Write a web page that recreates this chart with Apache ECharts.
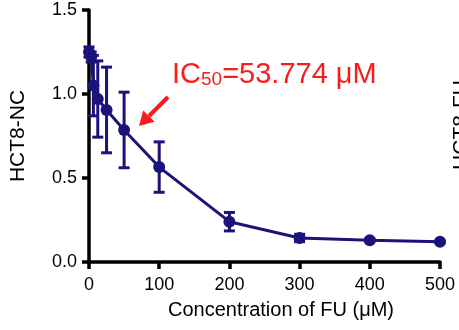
<!DOCTYPE html>
<html><head><meta charset="utf-8">
<script src="https://cdn.jsdelivr.net/npm/echarts@6/dist/echarts.min.js"></script>
<style>html,body{margin:0;padding:0;background:#fff;}#c{width:459px;height:330px;}</style>
</head><body><div id="c"></div>
<script>
// Data
const concentrations = [0, 3.125, 6.25, 12.5, 25, 50, 100, 200, 300, 400, 500];
const viability = [1.25, 1.22, 1.05, 0.97, 0.905, 0.786, 0.565, 0.24, 0.143, 0.13, 0.12];
const errors = [0.03, 0.03, 0.18, 0.227, 0.255, 0.225, 0.15, 0.055, 0.022, 0.008, 0.005];
const xTicks = [0, 100, 200, 300, 400, 500];
const yTicks = [0.0, 0.5, 1.0, 1.5];
const xTitle = 'Concentration of FU (μM)';
const yTitle = 'HCT8-NC';
const rightTitle = 'HCT8-FU';
const icLabel = ['IC', '50', '=53.774 μM'];

const navy = '#1b137a';
const red = '#fa1c1c';
const font = 'Liberation Sans, Arial, Helvetica, sans-serif';

const lineData = concentrations.map((c, i) => [c, viability[i]]);
const errData = concentrations.map((c, i) => [c, viability[i] - errors[i], viability[i] + errors[i]]);

const chart = echarts.init(document.getElementById('c'), null, {renderer: 'canvas'});
chart.setOption({
  animation: false,
  backgroundColor: '#fff',
  grid: {left: 88.5, right: 19, top: 10, bottom: 68, containLabel: false},
  xAxis: {
    type: 'value', min: xTicks[0], max: xTicks[xTicks.length - 1], interval: 100,
    name: xTitle, nameLocation: 'middle', nameGap: 38,
    nameTextStyle: {fontFamily: font, fontSize: 20, color: '#000', padding: [0, 0, 0, 33]},
    axisLine: {show: true, lineStyle: {color: '#000', width: 3.5}},
    axisTick: {show: true, length: 7, lineStyle: {color: '#000', width: 3.5}},
    axisLabel: {fontFamily: font, fontSize: 18, color: '#000', margin: 14},
    splitLine: {show: false}
  },
  yAxis: {
    type: 'value', min: yTicks[0], max: yTicks[yTicks.length - 1], interval: 0.5,
    name: yTitle, nameLocation: 'middle', nameGap: 60, nameRotate: 90,
    nameTextStyle: {fontFamily: font, fontSize: 21, color: '#000', padding: [0, 0, 0, 0]},
    axisLine: {show: true, lineStyle: {color: '#000', width: 3.5}},
    axisTick: {show: true, length: 7, lineStyle: {color: '#000', width: 3.5}},
    axisLabel: {fontFamily: font, fontSize: 18, color: '#000', margin: 12, formatter: v => v.toFixed(1)},
    splitLine: {show: false}
  },
  series: [
    {
      type: 'line', data: lineData, symbol: 'circle', symbolSize: 12,
      lineStyle: {color: navy, width: 3}, itemStyle: {color: navy}, z: 3
    },
    {
      type: 'custom', data: errData, z: 4,
      renderItem: function (params, api) {
        const x = api.value(0);
        const lo = api.coord([x, api.value(1)]);
        const hi = api.coord([x, api.value(2)]);
        const w = 5.5;
        const st = {stroke: navy, lineWidth: 3, fill: null};
        return {type: 'group', children: [
          {type: 'line', shape: {x1: lo[0], y1: lo[1], x2: hi[0], y2: hi[1]}, style: st},
          {type: 'line', shape: {x1: lo[0] - w, y1: lo[1], x2: lo[0] + w, y2: lo[1]}, style: st},
          {type: 'line', shape: {x1: hi[0] - w, y1: hi[1], x2: hi[0] + w, y2: hi[1]}, style: st}
        ]};
      }
    }
  ],
  graphic: [
    {
      type: 'text', left: 172, top: 60,
      style: {
        text: '{a|' + icLabel[0] + '}{s|' + icLabel[1] + '}{a|' + icLabel[2] + '}',
        rich: {
          a: {fontFamily: font, fontSize: 29, fill: red, color: red, verticalAlign: 'bottom', lineHeight: 32},
          s: {fontFamily: font, fontSize: 19, fill: red, color: red, verticalAlign: 'bottom', lineHeight: 24}
        }
      }
    },
    {type: 'line', shape: {x1: 168, y1: 97, x2: 149, y2: 116}, style: {stroke: red, lineWidth: 4}},
    {type: 'polygon', shape: {points: [[139, 126], [154.6, 121.8], [143.2, 110.4]]}, style: {fill: red}},
    {
      type: 'text', x: 451, y: 125, rotation: Math.PI / 2,
      style: {text: rightTitle, fontFamily: font, fontSize: 21, fill: '#000', align: 'center', verticalAlign: 'top'}
    }
  ]
});
</script></body></html>
